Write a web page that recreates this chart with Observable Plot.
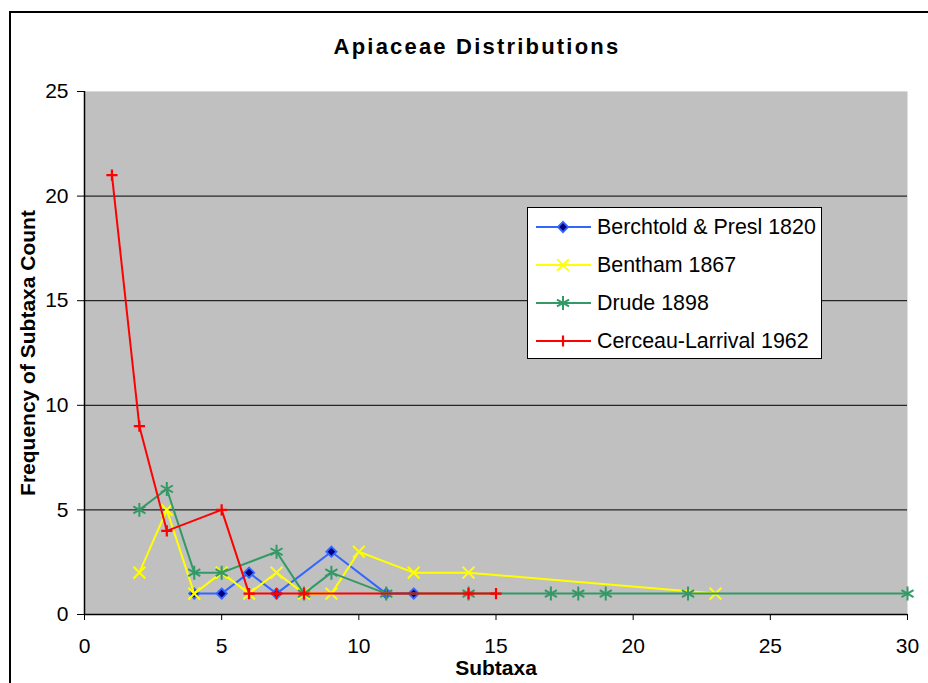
<!DOCTYPE html>
<html>
<head>
<meta charset="utf-8">
<script src="https://cdn.jsdelivr.net/npm/d3@7"></script>
<script src="https://cdn.jsdelivr.net/npm/@observablehq/plot@0.6"></script>
<style>
html, body { margin: 0; padding: 0; overflow: hidden; background: #fff; }
#wrap { position: relative; width: 928px; height: 683px; overflow: hidden; font-family: "Liberation Sans", Arial, sans-serif; }
#border { position: absolute; left: 9px; top: 11px; width: 1000px; height: 1000px; border: 2px solid #000; box-sizing: border-box; }
#chart { position: absolute; left: 0; top: 0; }
#title { position: absolute; left: 277px; width: 400px; top: 34px; text-align: center; font-weight: bold; font-size: 22px; letter-spacing: 2.2px; color: #000; line-height: 26px; }
#legend { position: absolute; left: 527px; top: 207px; width: 295px; height: 152px; box-sizing: border-box; border: 1px solid #000; background: #fff; }
.row { position: absolute; left: 6px; height: 26px; display: flex; align-items: center; font-size: 21.4px; color: #000; white-space: nowrap; }
.row svg { margin-right: 5px; }
svg g[aria-label="x-axis tick label"] text, svg g[aria-label="y-axis tick label"] text { font-size: 21px !important; }
</style>
</head>
<body>
<div id="wrap">
  <div id="border"></div>
  <div id="chart"></div>
  <div id="title">Apiaceae Distributions</div>
  <div id="legend"></div>
</div>
<script>
// ---- data ----
const seriesNames = ["Berchtold & Presl 1820", "Bentham 1867", "Drude 1898", "Cerceau-Larrival 1962"];
const berchtoldX = [4, 5, 6, 7, 9, 11, 12];
const berchtoldY = [1, 1, 2, 1, 3, 1, 1];
const benthamX = [2, 3, 4, 5, 6, 7, 8, 9, 10, 12, 14, 23];
const benthamY = [2, 5, 1, 2, 1, 2, 1, 1, 3, 2, 2, 1];
const drudeX = [2, 3, 4, 5, 7, 8, 9, 11, 14, 17, 18, 19, 22, 30];
const drudeY = [5, 6, 2, 2, 3, 1, 2, 1, 1, 1, 1, 1, 1, 1];
const cerceauX = [1, 2, 3, 5, 6, 7, 8, 14, 15];
const cerceauY = [21, 9, 4, 5, 1, 1, 1, 1, 1];
const xTicks = [0, 5, 10, 15, 20, 25, 30];
const yTicks = [0, 5, 10, 15, 20, 25];

const seriesX = [berchtoldX, benthamX, drudeX, cerceauX];
const seriesY = [berchtoldY, benthamY, drudeY, cerceauY];

// ---- styles ----
const lineColors = ["#3366ff", "#ffff00", "#339966", "#ff0000"];
const symbols = ["diamond2", "times", "asterisk", "plus"];
const fills = ["#000080", "none", "none", "none"];
const markR = [4.6, 5.4, 6.6, 3.7];
const markW = [1.8, 2, 2, 2.2];

const rows = [];
seriesNames.forEach((name, i) => {
  seriesX[i].forEach((x, j) => rows.push({series: name, idx: i, x, y: seriesY[i][j]}));
});

const marks = [
  Plot.frame({fill: "#c0c0c0", stroke: "none"}),
  Plot.gridY(yTicks.filter(t => t > 0 && t < 25), {stroke: "#000", strokeOpacity: 1, strokeWidth: 1}),
  Plot.ruleY([25], {stroke: "#d9d9d9", strokeWidth: 1}),
];
seriesNames.forEach((name, i) => {
  const d = rows.filter(r => r.idx === i);
  marks.push(Plot.line(d, {x: "x", y: "y", stroke: lineColors[i], strokeWidth: 2}));
  marks.push(Plot.dot(d, {
    x: "x", y: "y", symbol: () => symbols[i], r: markR[i],
    stroke: lineColors[i], strokeWidth: markW[i], fill: fills[i]
  }));
});
marks.push(
  Plot.axisY({ticks: yTicks, tickSize: 7, tickPadding: 9, fontSize: 21, label: "Frequency of Subtaxa Count", labelAnchor: "center", labelOffset: 64, labelArrow: "none"}),
  Plot.axisX({ticks: xTicks, tickSize: 6, tickPadding: 18, fontSize: 21, label: "Subtaxa", labelAnchor: "center", labelOffset: 60, labelArrow: "none"}),
  Plot.ruleX([0], {stroke: "#000", strokeWidth: 1.5}),
  Plot.ruleY([0], {stroke: "#000", strokeWidth: 1.5})
);

const chart = Plot.plot({
  width: 928,
  height: 683,
  marginLeft: 84,
  marginRight: 21,
  marginTop: 91,
  marginBottom: 69,
  style: {fontFamily: "'Liberation Sans', Arial, sans-serif", fontSize: "21px", color: "#000", background: "transparent"},
  x: {domain: [0, 30]},
  y: {domain: [0, 25]},
  marks
});
chart.querySelectorAll('[aria-label="x-axis label"] text, [aria-label="y-axis label"] text').forEach(t => {
  t.setAttribute("font-weight", "bold");
  t.style.fontSize = "21px";
  t.textContent = t.textContent.replace(/\s*[→↑←↓]\s*/g, "");
});
document.getElementById("chart").appendChild(chart);

// ---- legend ----
const legend = d3.select("#legend");
const symMap = {diamond2: d3.symbolDiamond2, times: d3.symbolTimes, asterisk: d3.symbolAsterisk, plus: d3.symbolPlus};
seriesNames.forEach((name, i) => {
  const row = legend.append("div").attr("class", "row").style("top", (6 + i * 38) + "px");
  const svg = row.append("svg").attr("width", 58).attr("height", 26);
  svg.append("line").attr("x1", 2).attr("x2", 57).attr("y1", 13).attr("y2", 13)
    .attr("stroke", lineColors[i]).attr("stroke-width", 2);
  svg.append("path").attr("transform", "translate(29,13)")
    .attr("d", d3.symbol(symMap[symbols[i]], markR[i] * markR[i] * Math.PI)())
    .attr("stroke", lineColors[i]).attr("stroke-width", markW[i]).attr("fill", fills[i]);
  row.append("span").text(name);
});
</script>
</body>
</html>
